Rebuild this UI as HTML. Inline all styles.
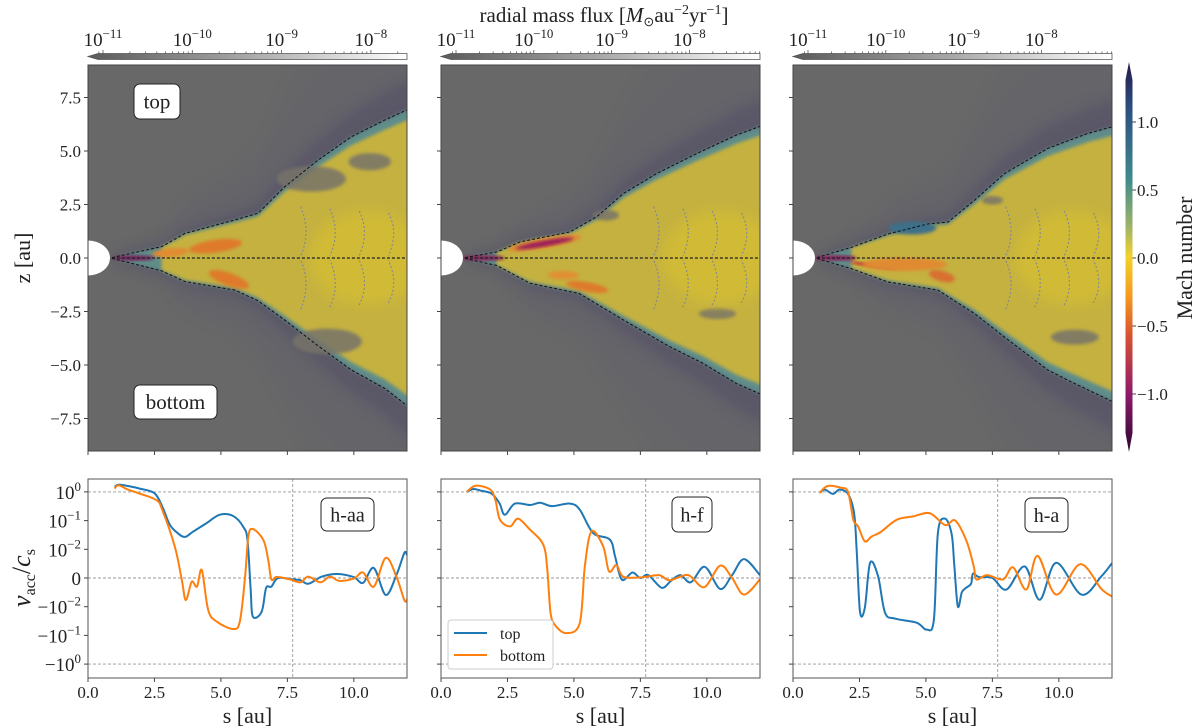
<!DOCTYPE html>
<html><head><meta charset="utf-8">
<style>
html,body{margin:0;padding:0;background:#fff;}
svg{display:block;font-family:"Liberation Serif",serif;}
</style></head>
<body>
<svg id="fig" width="1200" height="728" viewBox="0 0 1200 728" xmlns="http://www.w3.org/2000/svg">
<defs>
  <filter id="b6" x="-20%" y="-20%" width="140%" height="140%"><feGaussianBlur stdDeviation="7"/></filter>
  <filter id="b3" x="-20%" y="-20%" width="140%" height="140%"><feGaussianBlur stdDeviation="3"/></filter>
  <filter id="b2" x="-20%" y="-20%" width="140%" height="140%"><feGaussianBlur stdDeviation="1.6"/></filter>
  <linearGradient id="fluxGrad" x1="0" x2="1" y1="0" y2="0">
    <stop offset="0" stop-color="#5a5a5a"/><stop offset="0.5" stop-color="#a8a8a8"/><stop offset="1" stop-color="#ffffff"/>
  </linearGradient>
  <linearGradient id="machGrad" x1="0" x2="0" y1="0" y2="1">
    <stop offset="0" stop-color="#231a4a"/>
    <stop offset="0.12" stop-color="#2c4f80"/>
    <stop offset="0.3" stop-color="#3f8a8c"/>
    <stop offset="0.42" stop-color="#9cb36a"/>
    <stop offset="0.5" stop-color="#f2d22a"/>
    <stop offset="0.6" stop-color="#f59a1e"/>
    <stop offset="0.7" stop-color="#d8532f"/>
    <stop offset="0.85" stop-color="#8f1a6a"/>
    <stop offset="1" stop-color="#2a0630"/>
  </linearGradient>
</defs>
<g id="root"></g>
</svg>
<script>
// ---------- data (bottom panels: v_acc/c_s vs s) ----------
const sTop1 = [1.0,1.15,1.5,1.95,2.5,2.8,3.08,3.4,3.65,3.95,4.46,4.96,5.46,5.84,6.0,6.12,6.2,6.53,6.7,6.9,7.15,7.7,8.0,8.3,8.8,9.4,10.0,10.35,10.75,11.2,11.6,11.9,12.0];
const vTop1 = [1.5,1.8,1.6,1.3,0.9,0.30,0.071,0.035,0.027,0.041,0.082,0.16,0.145,0.061,0.021,-0.0042,-0.022,-0.015,-0.0035,-0.003,0,-0.0005,-0.0008,-0.002,0.0005,0.0014,0.0003,-0.0017,0.0035,-0.0059,0.001,0.0087,0.008];
const sBot1 = [1.0,1.15,1.5,1.9,2.57,2.8,3.27,3.53,3.68,3.9,4.1,4.28,4.52,4.84,5.46,5.71,5.9,6.03,6.2,6.6,6.78,6.9,7.1,7.6,8.0,8.28,8.75,9.1,9.45,10.0,10.35,10.75,11.2,11.6,11.9,12.0];
const vBot1 = [1.3,1.7,1.2,0.9,0.52,0.23,0.012,-0.0007,-0.0077,-0.0013,-0.003,0.0028,-0.013,-0.033,-0.06,-0.033,-0.0007,0.027,0.051,0.021,0.0063,-0.0005,0.0004,-0.0005,-0.0015,0.0005,-0.0015,0.0005,-0.001,-0.0002,0.0019,-0.003,0.007,0.0005,-0.0077,-0.0075];
const sTop2 = [0.97,1.22,1.5,1.9,2.2,2.4,2.78,3.35,3.73,4.17,4.85,5.22,5.72,6.35,6.55,6.8,7.2,7.5,7.8,8.3,8.65,9.0,9.4,9.92,10.5,10.95,11.4,12.0];
const vTop2 = [1.0,1.26,1.1,0.87,0.4,0.16,0.39,0.35,0.42,0.32,0.39,0.24,0.037,0.022,0.0075,-0.0006,0.0019,0,0.001,-0.0034,-0.001,0.001,-0.0015,0.0039,-0.0038,0.001,0.0066,0.001];
const sBot2 = [0.97,1.3,1.85,2.05,2.22,2.6,2.9,3.35,3.85,4.0,4.12,4.3,4.72,5.22,5.41,5.66,6.1,6.32,6.6,6.85,7.5,8.2,8.6,9.3,9.9,10.5,10.95,11.4,12.0];
const vBot2 = [1.0,1.65,1.2,0.5,0.107,0.063,0.117,0.048,0.0145,0.0029,-0.016,-0.045,-0.083,-0.037,0.004,0.042,0.0126,0.0023,0.0045,0.0005,0.0002,0.001,-0.0008,0.001,-0.0032,0.0043,0,-0.0058,-0.0005];
const sTop3 = [1.0,1.2,1.5,1.75,2.07,2.3,2.4,2.52,2.7,2.9,3.2,3.46,3.83,4.65,5.03,5.3,5.45,5.72,5.97,6.07,6.2,6.35,6.5,6.7,6.77,7.0,7.5,8.03,8.72,9.28,9.9,10.85,11.6,12.0];
const vTop3 = [0.92,1.2,0.85,1.2,0.85,0.18,0.0088,-0.015,-0.011,0.0053,0.0006,-0.016,-0.026,-0.036,-0.063,-0.028,0.037,0.117,0.033,0.004,-0.0099,-0.005,-0.0035,-0.002,0.0015,0.0003,0,-0.004,0.004,-0.0076,0.0053,-0.0058,0.0006,0.0052];
const sBot3 = [1.0,1.3,1.8,2.07,2.27,2.45,2.7,2.96,3.3,3.9,4.52,5.15,5.72,6.1,6.53,6.8,6.9,7.3,7.9,8.28,8.78,9.2,9.9,10.8,11.6,12.0];
const vBot3 = [0.92,1.6,1.4,1.0,0.107,0.063,0.019,0.028,0.04,0.107,0.14,0.18,0.07,0.1,0.019,0.004,-0.0005,0.001,-0.0005,0.0037,-0.004,0.0077,-0.0058,0.0048,-0.0038,-0.0064];
const xTicks = [0,2.5,5,7.5,10];
const xTickLabels = ["0.0","2.5","5.0","7.5","10.0"];
const zTicks = [7.5,5,2.5,0,-2.5,-5,-7.5];
const zTickLabels = ["7.5","5.0","2.5","0.0","−2.5","−5.0","−7.5"];
const symTicks = [1,0.1,0.01,0,-0.01,-0.1,-1];
const symTickBase = ["10","10","10","0","−10","−10","−10"];
const symTickExp = ["0","−1","−2","","−2","−1","0"];
const machTicks = [1.0,0.5,0.0,-0.5,-1.0];
const machTickLabels = ["1.0","0.5","0.0","−0.5","−1.0"];
const fluxTickExp = ["−11","−10","−9","−8"];
// disk boundary contours (s, z in au)
const bUpS1=[0.9,2.77,3.65,5.53,6.4,7.4,8.65,9.9,11.17,12.0], bUpZ1=[0.02,0.53,1.15,1.78,2.09,3.33,4.57,5.66,6.45,6.92];
const bLoS1=[0.9,2.77,3.65,5.53,6.4,7.4,8.65,9.9,11.17,12.0], bLoZ1=[-0.02,-0.6,-1.1,-1.5,-2.0,-2.9,-4.1,-5.23,-6.1,-6.9];
const bUpS2=[0.9,2.1,2.97,4.85,5.86,6.87,8.12,9.62,11.1,12.0], bUpZ2=[0.02,0.28,0.75,1.22,1.93,3.02,3.95,4.88,5.74,6.15];
const bLoS2=[0.9,2.1,3.35,5.2,6.87,8.6,9.85,11.1,12.0], bLoZ2=[-0.02,-0.35,-1.18,-1.66,-2.9,-4.14,-4.92,-5.86,-6.35];
const bUpS3=[0.9,2.2,3.57,5.07,5.83,6.83,7.96,9.58,11.08,12.0], bUpZ3=[0.02,0.5,1.12,1.59,1.68,2.7,3.95,5.12,5.82,6.13];
const bLoS3=[0.9,2.2,3.57,5.45,6.83,7.96,9.58,10.45,12.0], bLoZ3=[-0.02,-0.5,-1.12,-1.5,-2.6,-3.7,-5.23,-5.78,-6.7];

// ---------- layout ----------
const NS="http://www.w3.org/2000/svg";
const root=document.getElementById('root');
const lefts=[88,441,793], W=319;
const topY0=65, topY1=451, zMid=258, zScale=21.4;
const botY0=479, botY1=678, symZero=578, symScale=28.7;
const sScale=W/12;
function el(tag,attrs,parent){const e=document.createElementNS(NS,tag);for(const k in attrs)e.setAttribute(k,attrs[k]);(parent||root).appendChild(e);return e;}
function xs(p,s){return lefts[p]+s*sScale;}
function yz(z){return zMid-z*zScale;}
function sym(v){const a=Math.abs(v);const u=a<=0.01?a/0.01:Math.log10(a/0.01)+1;return v<0?-u:u;}
function yv(v){return symZero-sym(v)*symScale;}
function smooth(pts){let d="M"+pts[0][0].toFixed(1)+","+pts[0][1].toFixed(1);
  for(let i=0;i<pts.length-1;i++){const p0=pts[i-1]||pts[i],p1=pts[i],p2=pts[i+1],p3=pts[i+2]||p2;
    const c1=[p1[0]+(p2[0]-p0[0])/6,p1[1]+(p2[1]-p0[1])/6],c2=[p2[0]-(p3[0]-p1[0])/6,p2[1]-(p3[1]-p1[1])/6];
    d+="C"+c1[0].toFixed(1)+","+c1[1].toFixed(1)+" "+c2[0].toFixed(1)+","+c2[1].toFixed(1)+" "+p2[0].toFixed(1)+","+p2[1].toFixed(1);}
  return d;}
function txt(x,y,str,attrs,parent){const t=el('text',Object.assign({x:x,y:y},attrs||{}),parent);t.textContent=str;return t;}
function supText(x,y,base,exp,size,anchor,parent,name){
  const t=el('text',{x:x,y:y,'font-size':size,'text-anchor':anchor,fill:'#222'},parent);
  
  
  const a=el('tspan',{},t);a.textContent=base;
  if(exp!==""){const b=el('tspan',{'font-size':size*0.68,dy:-size*0.42},t);b.textContent=exp;}
  return t;}

const ups=[[bUpS1,bUpZ1],[bUpS2,bUpZ2],[bUpS3,bUpZ3]], los=[[bLoS1,bLoZ1],[bLoS2,bLoZ2],[bLoS3,bLoZ3]];

// ---------- top map panels ----------
for(let p=0;p<3;p++){
  const g=el('g',{});
  
  
  const cid='clip'+p;
  const cp=el('clipPath',{id:cid},g);el('rect',{x:lefts[p],y:topY0,width:W,height:topY1-topY0},cp);
  const m=el('g',{'clip-path':'url(#'+cid+')'},g);
  el('rect',{x:lefts[p],y:topY0,width:W,height:topY1-topY0,fill:'#686868'},m);
  const U=ups[p],L=los[p];
  function poly(kU,kL,sMin){const pts=[];
    for(let i=0;i<U[0].length;i++){if(U[0][i]>=sMin)pts.push([xs(p,U[0][i]),yz(U[1][i]*kU)]);}
    pts.push([xs(p,12.6),yz(U[1][U[1].length-1]*kU)]);pts.push([xs(p,12.6),yz(L[1][L[1].length-1]*kL)]);
    for(let i=L[0].length-1;i>=0;i--){if(L[0][i]>=sMin)pts.push([xs(p,L[0][i]),yz(L[1][i]*kL)]);}
    return pts.map(q=>q[0].toFixed(1)+","+q[1].toFixed(1)).join(" ");}
  // outflow haze
  const hz=el('polygon',{points:poly(1.2,1.2,0),fill:'#4f4a64',opacity:0.55,filter:'url(#b6)'},m);
  
  
  for(const k of [1.8,2.5]){el('polygon',{points:poly(k,k,0),fill:'#5c5870',opacity:0.12,filter:'url(#b6)'},m);}
  const band=el('polygon',{points:poly(1.0,1.0,0),fill:'#5f8d8a',filter:'url(#b2)'},m);
  
  
  const yel=el('polygon',{points:poly(0.93,0.93,1.4),fill:'#c4b13f',filter:'url(#b2)'},m);
  
  
  // gray voids inside the disk
  const voids=[[[8.4,3.7,1.3,0.6],[9.0,-3.9,1.3,0.6],[10.6,4.5,0.8,0.4]],[[6.2,2.0,0.5,0.25],[10.4,-2.6,0.7,0.25]],[[10.6,-3.7,0.9,0.35],[7.5,2.7,0.4,0.2]]][p];
  for(const v of voids){el('ellipse',{cx:xs(p,v[0]),cy:yz(v[1]),rx:v[2]*sScale,ry:v[3]*zScale,fill:'#77736a',opacity:0.85,filter:'url(#b2)'},m);}
  el('ellipse',{cx:xs(p,10.5),cy:yz(0),rx:2.2*sScale,ry:2.2*zScale,fill:'#d6bf30',opacity:0.7,filter:'url(#b6)'},m);
  // streaks
  const streaks=[
    [[4.8,0.55,1.0,0.3,-8,'#df7a2c'],[3.1,0.25,0.7,0.2,-6,'#e28a30'],[5.3,-1.0,0.8,0.3,20,'#df7a2c'],[1.7,0.0,0.8,0.12,0,'#7a1a5a']],
    [[3.9,0.7,1.4,0.25,-10,'#e08a30'],[3.9,0.68,1.1,0.14,-10,'#9a1f5c'],[4.6,-0.8,0.6,0.2,0,'#e09030'],[5.5,-1.35,0.8,0.22,10,'#de7a2c'],[1.6,0.0,0.8,0.12,0,'#8a1a5a']],
    [[3.0,-0.35,0.9,0.08,8,'#c82a3a'],[4.2,-0.3,1.6,0.3,0,'#e08a30'],[5.6,-0.85,0.5,0.25,15,'#d87030'],[4.5,1.4,0.9,0.3,0,'#3d6f8a'],[1.6,0.0,0.8,0.12,0,'#8a1a5a']]
  ][p];
  for(const s of streaks){el('ellipse',{cx:xs(p,s[0]),cy:yz(s[1]),rx:s[2]*sScale,ry:s[3]*zScale,fill:s[5],filter:'url(#b2)',transform:'rotate('+s[4]+' '+xs(p,s[0])+' '+yz(s[1])+')'},m);}
  // inner contour hints
  for(let k=0;k<4;k++){const sx=8+k*1.1;el('path',{d:'M'+xs(p,sx)+','+yz(2.4-k*0.1)+' Q'+xs(p,sx+0.4)+','+yz(1.2)+' '+xs(p,sx)+','+yz(0.1),fill:'none',stroke:'#8a8a90',"stroke-width":1.2,"stroke-dasharray":"2,2"},m);
    el('path',{d:'M'+xs(p,sx)+','+yz(-2.4+k*0.1)+' Q'+xs(p,sx+0.4)+','+yz(-1.2)+' '+xs(p,sx)+','+yz(-0.1),fill:'none',stroke:'#8a8a90',"stroke-width":1.2,"stroke-dasharray":"2,2"},m);}
  // boundary dashed lines
  const up=U[0].map((s,i)=>[xs(p,s),yz(U[1][i])]), lo=L[0].map((s,i)=>[xs(p,s),yz(L[1][i])]);
  const bu=el('polyline',{points:up.map(q=>q.join(",")).join(" "),fill:'none',stroke:'#111',"stroke-width":1,"stroke-dasharray":"3,2"},m);
  
  
  const bl=el('polyline',{points:lo.map(q=>q.join(",")).join(" "),fill:'none',stroke:'#111',"stroke-width":1,"stroke-dasharray":"3,2"},m);
  
  
  el('line',{x1:xs(p,0.9),x2:xs(p,12),y1:yz(0),y2:yz(0),stroke:'#222',"stroke-width":1.2,"stroke-dasharray":"3,2"},m);
  const star=el('ellipse',{cx:lefts[p],cy:yz(0),rx:22,ry:17.5,fill:'#fff'},m);
  
  
  el('rect',{x:lefts[p],y:topY0,width:W,height:topY1-topY0,fill:'none',stroke:'#444',"stroke-width":1},g);
  for(const t of xTicks){el('line',{x1:xs(p,t),x2:xs(p,t),y1:topY1,y2:topY1+4,stroke:'#444'},g);}
  for(let i=0;i<zTicks.length;i++){el('line',{x1:lefts[p]-4,x2:lefts[p],y1:yz(zTicks[i]),y2:yz(zTicks[i]),stroke:'#444'},g);
    if(p===0){const t=txt(lefts[p]-7,yz(zTicks[i])+6,zTickLabels[i],{'font-size':17,'text-anchor':'end',fill:'#222'},g);
      
      }}
  // mass flux colorbar
  const cb=el('g',{},g);
  
  
  const x0=lefts[p]+10,x1=lefts[p]+W;
  el('polygon',{points:(lefts[p])+',56.5 '+x0+',53.5 '+x1+',53.5 '+x1+',59.5 '+x0+',59.5',fill:'url(#fluxGrad)',stroke:'#555',"stroke-width":0.8},cb);
  const t0=lefts[p]+15, dec=(p===0)?89.3:77.8;
  for(let d=-1;d<4;d++){for(let k=1;k<10;k++){const x=t0+(d+Math.log10(k))*dec;if(x<x0||x>x1)continue;
    el('line',{x1:x,x2:x,y1:53.5,y2:k===1?50:51.5,stroke:'#555',"stroke-width":0.8},cb);}}
  for(let d=0;d<4;d++){supText(t0+d*dec,46,"10",fluxTickExp[d],19,'middle',cb,'flux-tick-label');}
}
const zl=txt(0,0,"z [au]",{'font-size':22,'text-anchor':'middle',fill:'#222',transform:'translate(30,258) rotate(-90)'});


const ft=el('text',{x:604,y:22,'font-size':21,'text-anchor':'middle',fill:'#222'});


ft.innerHTML='radial mass flux [<tspan font-style="italic">M</tspan><tspan font-size="13" dy="4">⊙</tspan><tspan dy="-4">au</tspan><tspan font-size="14" dy="-8">−2</tspan><tspan dy="8">yr</tspan><tspan font-size="14" dy="-8">−1</tspan><tspan dy="8">]</tspan>';

function boxLabel(x,y,w,h,str,name,size){const g=el('g',{});
  
  
  el('rect',{x:x,y:y,width:w,height:h,rx:6,fill:'#fff',stroke:'#222',"stroke-width":1},g);
  txt(x+w/2,y+h/2+7,str,{'font-size':size||21,'text-anchor':'middle',fill:'#222'},g);}
boxLabel(134,84,46,35,"top","top-label");
boxLabel(134,385,83,34,"bottom","bottom-label");

// ---------- Mach colorbar ----------
const mc=el('g',{});


function ym(v){return 258-v*136;}
el('polygon',{points:'1129,62 1132.5,80 1132.5,433 1129,452 1125.5,433 1125.5,80',fill:'url(#machGrad)'},mc);
for(let i=0;i<machTicks.length;i++){el('line',{x1:1132.5,x2:1136,y1:ym(machTicks[i]),y2:ym(machTicks[i]),stroke:'#444'},mc);
  const t=txt(1137,ym(machTicks[i])+6,machTickLabels[i],{'font-size':17,fill:'#222'},mc);
  
  }
const ml=txt(0,0,"Mach number",{'font-size':22,'text-anchor':'middle',fill:'#222',transform:'translate(1192,258) rotate(-90)'},mc);



// ---------- bottom line panels ----------
const series=[[sTop1,vTop1,sBot1,vBot1],[sTop2,vTop2,sBot2,vBot2],[sTop3,vTop3,sBot3,vBot3]];
const tags=["h-aa","h-f","h-a"];
for(let p=0;p<3;p++){
  const g=el('g',{});
  
  
  const cid='bclip'+p;const cp=el('clipPath',{id:cid},g);el('rect',{x:lefts[p],y:botY0,width:W,height:botY1-botY0},cp);
  for(const v of [1,0,-1]){el('line',{x1:lefts[p],x2:lefts[p]+W,y1:yv(v),y2:yv(v),stroke:'#999',"stroke-width":0.9,"stroke-dasharray":"3,2"},g);}
  el('line',{x1:xs(p,7.7),x2:xs(p,7.7),y1:botY0,y2:botY1,stroke:'#999',"stroke-width":0.9,"stroke-dasharray":"3,2"},g);
  const d=series[p];
  const lt=el('path',{d:smooth(d[0].map((s,i)=>[xs(p,s),yv(d[1][i])])),fill:'none',stroke:'#1f77b4',"stroke-width":2,'clip-path':'url(#'+cid+')'},g);
  
  
  const lb=el('path',{d:smooth(d[2].map((s,i)=>[xs(p,s),yv(d[3][i])])),fill:'none',stroke:'#ff7f0e',"stroke-width":2,'clip-path':'url(#'+cid+')'},g);
  
  
  el('rect',{x:lefts[p],y:botY0,width:W,height:botY1-botY0,fill:'none',stroke:'#555',"stroke-width":1},g);
  for(let i=0;i<xTicks.length;i++){el('line',{x1:xs(p,xTicks[i]),x2:xs(p,xTicks[i]),y1:botY1,y2:botY1+4,stroke:'#444'},g);
    const t=txt(xs(p,xTicks[i]),698,xTickLabels[i],{'font-size':17,'text-anchor':'middle',fill:'#222'},g);
    
    }
  for(let i=0;i<symTicks.length;i++){el('line',{x1:lefts[p]-4,x2:lefts[p],y1:yv(symTicks[i]),y2:yv(symTicks[i]),stroke:'#444'},g);
    if(p===0){supText(lefts[p]-7,yv(symTicks[i])+7,symTickBase[i],symTickExp[i],19,'end',g,'v-tick-label');}}
  const xl=txt(lefts[p]+W/2,723,"s [au]",{'font-size':22,'text-anchor':'middle',fill:'#222'},g);
  
  
  const bx=[[321,498,53,33],[672,497,40,35],[1025,498,43,34]][p];
  boxLabel(bx[0],bx[1],bx[2],bx[3],tags[p],'model-label-'+tags[p],20);
}
const yl=el('text',{'font-size':26,'text-anchor':'middle',fill:'#222',transform:'translate(30,578) rotate(-90)'});


yl.innerHTML='<tspan font-style="italic">v</tspan><tspan font-size="16" dy="5">acc</tspan><tspan dy="-5">/</tspan><tspan font-style="italic">c</tspan><tspan font-size="16" dy="5">s</tspan>';

// legend
const lg=el('g',{});


el('rect',{x:448,y:620,width:105,height:49,rx:3,fill:'#fff',stroke:'#ccc',"stroke-width":1},lg);
const le1=el('line',{x1:454,x2:487,y1:633,y2:633,stroke:'#1f77b4',"stroke-width":2},lg);


txt(500,639,"top",{'font-size':16,fill:'#222'},lg);
const le2=el('line',{x1:454,x2:487,y1:655,y2:655,stroke:'#ff7f0e',"stroke-width":2},lg);


txt(500,661,"bottom",{'font-size':16,fill:'#222'},lg);
</script>
</body></html>
